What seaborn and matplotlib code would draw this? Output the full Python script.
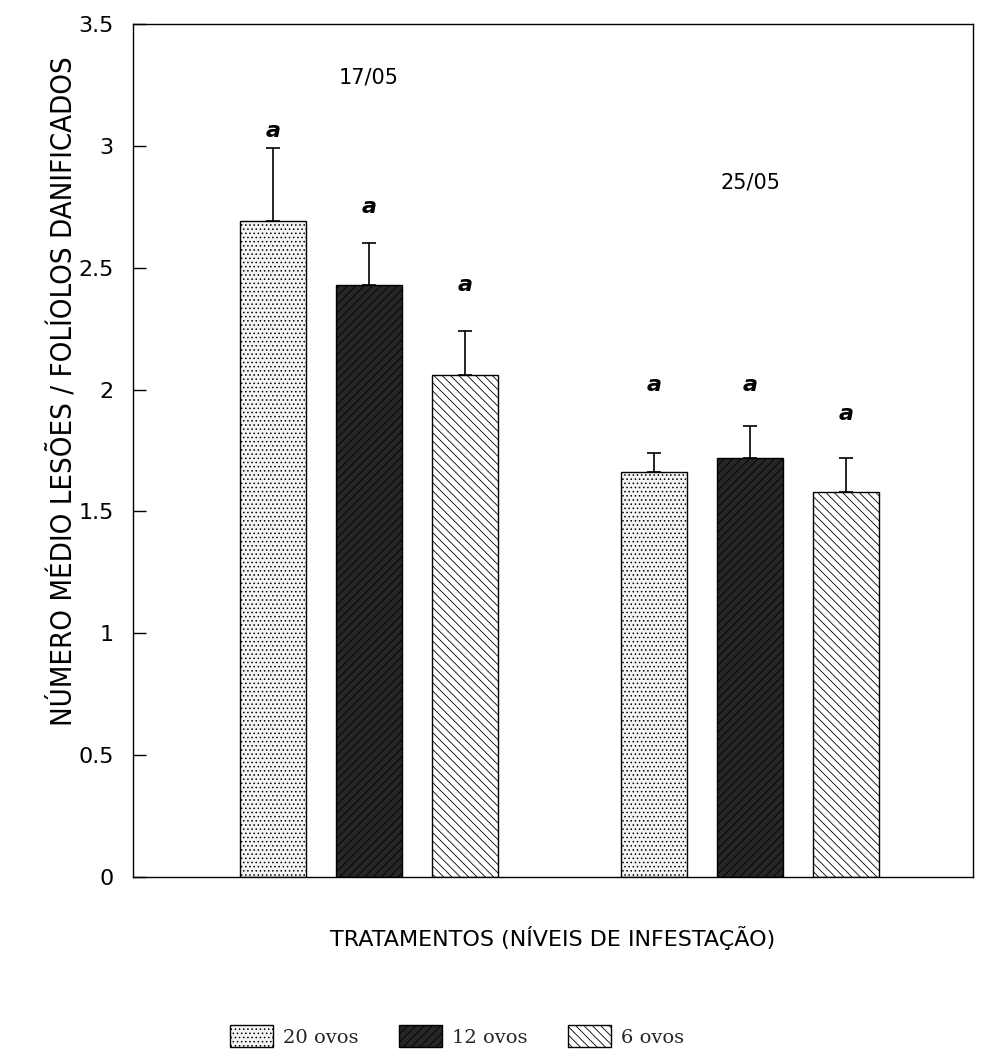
import numpy as np
import pandas as pd
import matplotlib
matplotlib.use("Agg")
import matplotlib.pyplot as plt
import seaborn as sns
from matplotlib.patches import Patch

dates = ["17/05", "25/05"]
treatments = ["20 ovos", "12 ovos", "6 ovos"]
means_1705 = [2.69, 2.43, 2.06]
means_2505 = [1.66, 1.72, 1.58]
err_1705 = [0.30, 0.17, 0.18]
err_2505 = [0.08, 0.13, 0.14]
letters_1705 = ["a", "a", "a"]
letters_2505 = ["a", "a", "a"]
letter_y_1705 = [3.06, 2.75, 2.43]
letter_y_2505 = [2.02, 2.02, 1.90]
yticks = [0, 0.5, 1, 1.5, 2, 2.5, 3, 3.5]
ytick_labels = ["0", "0.5", "1", "1.5", "2", "2.5", "3", "3.5"]

df = pd.DataFrame({
    "date": [dates[0]] * 3 + [dates[1]] * 3,
    "trat": treatments * 2,
    "mean": means_1705 + means_2505,
    "err": err_1705 + err_2505,
    "letter": letters_1705 + letters_2505,
    "ly": letter_y_1705 + letter_y_2505,
})

sns.set_theme(style="white")
plt.rcParams["font.family"] = ["DejaVu Sans"]
plt.rcParams["hatch.linewidth"] = 0.6

fig = plt.figure(figsize=(9.87, 10.53), dpi=100)
ax = fig.add_axes([0.1348, 0.1671, 0.851, 0.8101])

faces = ["#f4f4f4", "#262626", "#ffffff"]
hatches = ["....", "////", "\\\\\\\\"]

sns.barplot(data=df, x="date", y="mean", hue="trat", hue_order=treatments,
            order=dates, palette=faces, width=0.756, gap=0.32,
            edgecolor="black", linewidth=1.0, legend=False, errorbar=None, ax=ax)

bar_conts = list(ax.containers)
for ci, cont in enumerate(bar_conts):
    for bi, bar in enumerate(cont):
        bar.set_hatch(hatches[ci])
        bar.set_edgecolor("black")
        bar.set_facecolor(faces[ci])
        row = df[(df["trat"] == treatments[ci]) & (df["date"] == dates[bi])].iloc[0]
        cx = bar.get_x() + bar.get_width() / 2
        top = bar.get_height()
        ax.errorbar(cx, top, yerr=[[0], [row["err"]]], fmt="none",
                    ecolor="black", elinewidth=1.2, capsize=5, capthick=1.2, zorder=3)
        ax.text(cx, row["ly"], row["letter"], ha="center", va="center",
                fontsize=16, fontstyle="italic", fontweight="bold", color="black")

ax.text(0, 3.28, dates[0], ha="center", va="center", fontsize=15, color="black")
ax.text(1, 2.85, dates[1], ha="center", va="center", fontsize=15, color="black")

ax.set_xlim(-0.619, 1.585)
ax.set_ylim(0, 3.5)
ax.set_yticks(yticks)
ax.set_yticklabels(ytick_labels, fontsize=16)
ax.set_xticks([])
ax.tick_params(axis="y", direction="in", length=9, width=1, left=True, pad=14, colors="black")
for s in ax.spines.values():
    s.set_visible(True)
    s.set_color("black")
    s.set_linewidth(1.0)

ax.set_xlabel("TRATAMENTOS (NÍVEIS DE INFESTAÇÃO)", fontsize=16, labelpad=35, color="black")
ax.set_ylabel("NÚMERO MÉDIO LESÕES / FOLÍOLOS DANIFICADOS", fontsize=21,
              fontstretch="condensed", color="black")
ax.yaxis.set_label_coords(-0.066, 0.57)

handles = [Patch(facecolor=faces[i], edgecolor="black", hatch=hatches[i], label=treatments[i])
           for i in range(3)]
fig.legend(handles=handles, loc="center", bbox_to_anchor=(0.463, 0.016), ncol=3,
           frameon=False, handlelength=2.2, handleheight=1.4,
           columnspacing=2.1, handletextpad=0.5,
           prop={"family": "DejaVu Serif", "size": 14})

fig.savefig("out.png", dpi=100)
